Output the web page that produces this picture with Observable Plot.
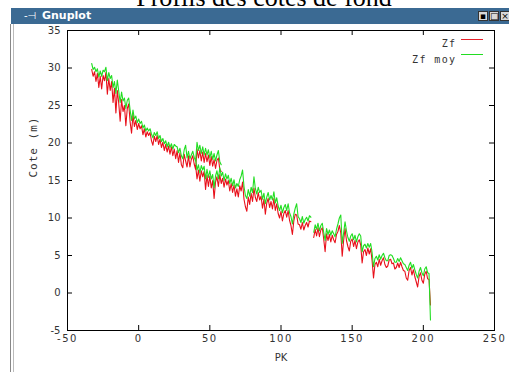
<!DOCTYPE html>
<html><head><meta charset="utf-8">
<script src="https://cdn.jsdelivr.net/npm/d3@7"></script>
<script src="https://cdn.jsdelivr.net/npm/@observablehq/plot@0.6"></script>
<style>
html,body{margin:0;padding:0;background:#fff;}
#page{position:relative;width:509px;height:372px;overflow:hidden;background:#fff;}
#chart{position:absolute;left:0;top:0;}
.abs{position:absolute;}
#title{left:0;width:528px;top:-15px;text-align:center;font:26px/26px "Liberation Serif",serif;color:#000;white-space:nowrap;}
#bar{left:11px;top:8px;width:498px;height:16px;background:#3b6a93;}
#bar .t{position:absolute;left:31px;top:0;line-height:16px;font:bold 11px/16px "DejaVu Sans",sans-serif;color:#fff;}
#bar .i{position:absolute;left:13px;top:0;font:10px/16px "DejaVu Sans",sans-serif;color:#fff;}
.btn{position:absolute;top:3px;width:8px;height:8px;background:#d8d8d8;border:1px solid #333;font:9px/8px "DejaVu Sans",sans-serif;text-align:center;color:#000;overflow:hidden;}
.bl{position:absolute;top:24px;height:348px;width:1px;}
.lg{position:absolute;left:461px;width:22px;height:1px;}
</style></head>
<body><div id="page"><div id="chart"></div>
<div id="title" class="abs">Profils des cotes de fond</div>
<div id="bar" class="abs"><span class="i">-⊣</span><span class="t">Gnuplot</span>
<span class="btn" style="left:467px">▪</span><span class="btn" style="left:478px">□</span><span class="btn" style="left:489px">×</span></div>
<div class="bl" style="left:10px;background:#888"></div>
<div class="bl" style="left:13px;background:#bbb"></div>
<div class="lg" style="top:39px;background:#e8202a"></div>
<div class="lg" style="top:54px;background:#22dd22"></div>
</div>
<script>
const xTicks = [-50, 0, 50, 100, 150, 200, 250];
const xTickLabels = ["-50", "0", "50", "100", "150", "200", "250"];
const yTicks = [-5, 0, 5, 10, 15, 20, 25, 30, 35];
const yTickLabels = ["-5", "0", "5", "10", "15", "20", "25", "30", "35"];
const seriesNames = ["Zf", "Zf moy"];

// Reach A (upstream, with the upper branch 41..58)
const pkA = [-33,-32,-31,-30,-29,-28,-27,-26,-25,-24,-23,-22,-21,-20,-19,-18,-17,-16,-15,-14,-13,-12,-11,-10,-9,-8,-7,-6,-5,-4,-3,-2,-1,0,1,2,3,4,5,6,7,8,9,10,11,12,13,14,15,16,17,18,19,20,21,22,23,24,25,26,27,28,29,30,31,32,33,34,35,36,37,38,39,40,41,42,43,44,45,46,47,48,49,50,51,52,53,54,55,56,57,58];
const zfA = [29.8,28.9,29.5,28.2,29.3,27.4,28.9,27.2,29.0,28.3,
29.4,26.5,28.6,27.0,28.2,25.4,27.3,24.0,27.0,25.3,
22.9,25.8,24.2,25.0,22.3,24.6,25.2,22.8,21.3,23.8,
22.2,23.0,21.8,22.6,21.9,22.3,21.1,21.9,20.8,21.5,
21.0,21.4,20.3,19.7,20.9,20.2,21.0,19.8,20.5,19.4,
20.1,19.0,19.8,18.8,19.6,18.5,19.5,18.3,19.2,17.9,
19.0,17.4,18.7,17.1,16.7,18.5,17.6,16.8,18.3,16.8,
17.8,18.3,17.2,16.5,
19.2,18.0,19.0,17.6,18.8,17.4,18.6,17.5,18.4,17.0,
18.2,16.9,17.8,16.6,17.7,18.0,16.5,16.2];
const zfMoyA = [30.6,29.8,30.1,29.5,29.9,28.8,29.6,28.9,29.7,29.5,
30.1,28.3,29.4,28.6,29.0,27.4,28.2,26.6,28.4,26.9,
25.4,26.8,25.6,26.0,24.6,25.7,26.0,24.4,23.0,24.4,
23.2,23.6,22.7,23.2,22.6,22.9,22.0,22.4,21.6,22.0,
21.6,21.9,21.2,20.7,21.4,21.0,21.5,20.6,21.0,20.2,
20.6,19.9,20.3,19.5,20.1,19.4,19.9,19.2,19.8,19.6,
19.5,18.7,19.3,18.3,17.9,19.1,19.7,18.0,18.9,17.9,
18.4,18.9,18.1,17.6,
20.1,19.0,19.7,18.6,19.5,18.4,19.3,18.4,19.1,18.0,
18.9,17.8,18.6,17.6,18.4,19.0,17.5,17.1];

// Reach B (40..121)
const pkB = [40,41,42,43,44,45,46,47,48,49,50,51,52,53,54,55,56,57,58,59,60,61,62,63,64,65,66,67,68,69,70,71,72,73,74,75,76,77,78,79,80,81,82,83,84,85,86,87,88,89,90,91,92,93,94,95,96,97,98,99,100,101,102,103,104,105,106,107,108,109,110,111,112,113,114,115,116,117,118,119,120,121];
const zfB = [17.0,
15.2,16.4,14.9,16.3,15.5,16.2,13.8,15.7,14.2,15.6,14.0,15.0,12.6,14.8,15.5,14.2,15.8,14.6,
15.3,14.1,15.2,14.4,15.0,13.6,14.6,13.4,14.4,12.9,13.9,12.8,
14.3,13.6,14.8,12.5,11.5,10.9,12.8,11.8,13.3,12.2,
14.0,12.7,12.2,13.4,12.4,12.9,11.3,12.5,10.5,12.0,
12.6,11.4,12.2,11.2,12.6,11.0,11.9,10.6,10.0,10.9,
9.6,10.6,11.0,10.1,11.0,9.7,9.0,7.8,9.6,10.5,
10.4,9.2,9.1,8.5,9.4,8.4,9.0,9.4,8.8,9.6,9.5];
const zfMoyB = [17.9,
16.4,17.1,16.0,17.0,16.4,16.9,15.2,16.5,15.4,16.3,15.2,15.8,14.0,15.6,16.3,15.2,16.7,15.6,
16.1,15.0,15.9,15.2,15.7,14.6,15.3,14.3,15.1,14.0,14.6,14.2,
15.1,15.6,16.4,14.2,13.0,12.6,13.8,12.9,14.1,13.4,
15.5,13.9,13.2,14.1,13.4,13.7,12.5,13.3,11.9,12.8,
13.4,12.4,13.0,12.4,13.5,12.0,12.7,11.6,11.0,11.7,
10.7,11.4,11.8,11.0,11.9,10.7,10.2,9.2,10.5,11.3,
11.9,10.2,9.9,9.4,10.2,9.3,9.8,10.1,9.6,10.3,10.1];

// Reach C (123..205)
const pkC = [123,124,125,126,127,128,129,130,131,132,133,134,135,136,137,138,139,140,141,142,143,144,145,146,147,148,149,150,151,152,153,154,155,156,157,158,159,160,161,162,163,164,165,166,167,168,169,170,171,172,173,174,175,176,177,178,179,180,181,182,183,184,185,186,187,188,189,190,191,192,193,194,195,196,197,198,199,200,201,202,203,204,205];
const zfC = [7.4,8.5,7.6,8.7,7.5,8.4,8.7,7.2,
5.5,7.9,7.0,7.8,6.8,7.7,7.1,6.7,7.8,8.2,
9.0,8.0,4.9,7.0,8.6,7.0,6.2,5.6,6.9,7.2,
6.2,7.0,5.9,6.8,7.1,6.4,4.0,5.5,5.8,5.0,
6.0,5.2,5.9,4.3,2.0,3.8,4.1,3.5,4.5,3.7,
4.3,4.7,3.8,3.4,3.6,4.4,4.5,3.9,4.0,3.2,
3.4,4.0,3.4,4.1,3.5,3.0,2.9,2.0,1.7,3.0,
3.4,2.4,3.1,2.2,1.5,0.8,2.2,2.7,1.7,1.3,
2.5,2.9,1.9,1.8,-1.6];
const zfMoyC = [8.1,9.1,8.5,9.3,8.3,9.0,9.3,8.1,
7.0,8.6,7.8,8.4,7.7,8.3,7.9,7.5,8.5,9.2,
10.0,10.4,6.6,8.0,9.5,8.3,7.4,6.9,7.6,7.9,
7.1,7.7,6.8,7.5,7.9,7.6,5.5,6.3,6.5,6.0,
6.6,6.1,6.6,5.4,3.5,4.6,4.9,4.4,5.1,4.5,
5.0,5.3,4.7,4.3,4.3,5.0,5.1,5.0,4.6,4.1,
4.1,4.6,4.2,4.7,4.3,3.9,3.8,3.4,3.0,3.7,
4.1,3.3,3.8,3.1,2.5,2.0,2.9,3.4,2.7,2.3,
3.2,3.5,2.7,2.6,-3.6];

const rows = (pk, zf, moy) => pk.map((p, i) => ({pk: p, zf: zf[i], moy: moy[i]}));
const A = rows(pkA, zfA, zfMoyA), B = rows(pkB, zfB, zfMoyB), C = rows(pkC, zfC, zfMoyC);
const RED = "#e8101a", GREEN = "#22dd22";

const chart = Plot.plot({
  width: 509, height: 372,
  marginLeft: 67, marginRight: 15, marginTop: 30, marginBottom: 42,
  x: {domain: [-50, 250]}, y: {domain: [-5, 35]},
  axis: null,
  style: {background: "transparent", fontFamily: "DejaVu Sans", fontSize: "10px", color: "#333", overflow: "visible"},
  marks: [
    ...[A, B, C].map(d => Plot.line(d, {x: "pk", y: "zf", stroke: RED, strokeWidth: 1.1})),
    ...[A, B, C].map(d => Plot.line(d, {x: "pk", y: "moy", stroke: GREEN, strokeWidth: 1.1})),
    Plot.frame({stroke: "#000"}),
    Plot.tickX(xTicks, {x: d => d, insetTop: 295, stroke: "#000"}),
    Plot.tickX(xTicks, {x: d => d, insetBottom: 295, stroke: "#000"}),
    Plot.tickY(yTicks, {y: d => d, insetRight: 422, stroke: "#000"}),
    Plot.tickY(yTicks, {y: d => d, insetLeft: 422, stroke: "#000"}),
    Plot.text(xTicks, {x: d => d, text: (d, i) => xTickLabels[i], frameAnchor: "bottom", lineAnchor: "top", dy: 4, fill: "#333"}),
    Plot.text(yTicks, {y: d => d, text: (d, i) => yTickLabels[i], frameAnchor: "left", textAnchor: "end", dx: -7, fill: "#333"}),
    Plot.text(["PK"], {text: d => d, frameAnchor: "bottom", lineAnchor: "top", dy: 23, fill: "#333"}),
    Plot.text(["Cote (m)"], {text: d => d, frameAnchor: "left", rotate: -90, dx: -34, dy: -3, fill: "#333"}),
    Plot.text([seriesNames[0]], {text: d => d, frameAnchor: "top-right", textAnchor: "end", dx: -38, dy: 9, fill: "#333"}),
    Plot.text([seriesNames[1]], {text: d => d, frameAnchor: "top-right", textAnchor: "end", dx: -38, dy: 25, fill: "#333"})
  ]
});
document.getElementById("chart").appendChild(chart);
const tg = chart.querySelectorAll('g[aria-label="text"]');
if (tg.length >= 6) {
  tg[0].setAttribute("letter-spacing", "1.5");
  tg[3].setAttribute("letter-spacing", "1");
  tg[3].setAttribute("font-family", "DejaVu Sans Mono");
  tg[3].setAttribute("font-size", "11");
  tg[4].setAttribute("font-family", "DejaVu Sans Mono");
  tg[5].setAttribute("font-family", "DejaVu Sans Mono");
  tg[4].setAttribute("letter-spacing", "1.4");
  tg[5].setAttribute("letter-spacing", "1.4");
}
</script>
</body></html>
